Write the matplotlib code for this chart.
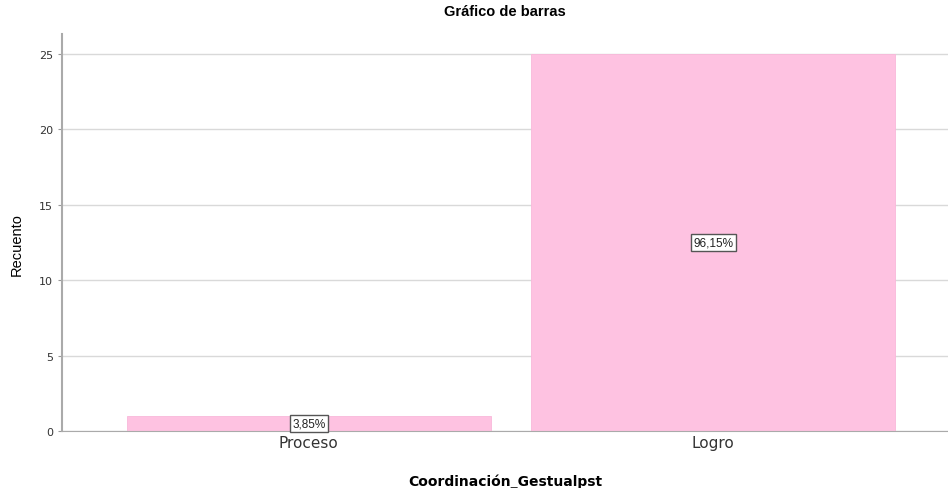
import matplotlib.pyplot as plt

categories = ["Proceso", "Logro"]
counts = [1, 25]
pct_labels = ["3,85%", "96,15%"]
y_ticks = [0, 5, 10, 15, 20, 25]

W, H = 948, 489
fig = plt.figure(figsize=(W / 100, H / 100), dpi=100)
ax = fig.add_axes([62 / W, 1 - 432 / H, (W - 62) / W, (432 - 35) / H])

x = range(len(categories))
ax.bar(x, counts, width=0.9, color="#fec2e1", edgecolor="#f9b8da", linewidth=0.6, zorder=2)

for xi, c, lab in zip(x, counts, pct_labels):
    ax.text(xi, c / 2, lab, ha="center", va="center", fontsize=8.5, color="#222222",
            family=["Liberation Sans", "DejaVu Sans"],
            bbox=dict(boxstyle="square,pad=0.2", facecolor="white", edgecolor="#555555", linewidth=1),
            zorder=3)

ax.set_xlim(-0.61, 1.58)
ax.set_ylim(0, 26.3)
ax.set_yticks(y_ticks)
ax.set_xticks(list(x))
ax.set_xticklabels(categories, fontsize=11, color="#333333")
ax.tick_params(axis="x", length=0, pad=3)
ax.tick_params(axis="y", labelsize=8, length=3, color="#999999", labelcolor="#333333")
ax.grid(axis="y", color="#d9d9d9", linewidth=1, zorder=0)
ax.set_axisbelow(True)

for side in ["top", "right"]:
    ax.spines[side].set_visible(False)
ax.spines["left"].set_color("#aaaaaa")
ax.spines["bottom"].set_color("#aaaaaa")
ax.spines["left"].set_linewidth(1.5)

fig.text(0.5 * (62 + W) / W, 1 - 12 / H, "Gráfico de barras", fontsize=10.5, fontweight="bold",
         family=["Liberation Sans", "DejaVu Sans"], ha="center", va="center")
fig.text(17 / W, 1 - 245 / H, "Recuento", fontsize=10.5, rotation=90,
         family=["Liberation Sans Narrow", "Liberation Sans", "DejaVu Sans"], ha="center", va="center")
fig.text(0.5 * (62 + W) / W, 1 - 482 / H, "Coordinación_Gestualpst", fontsize=10, fontweight="bold",
         ha="center", va="center")

fig.savefig("out.png", dpi=100)
